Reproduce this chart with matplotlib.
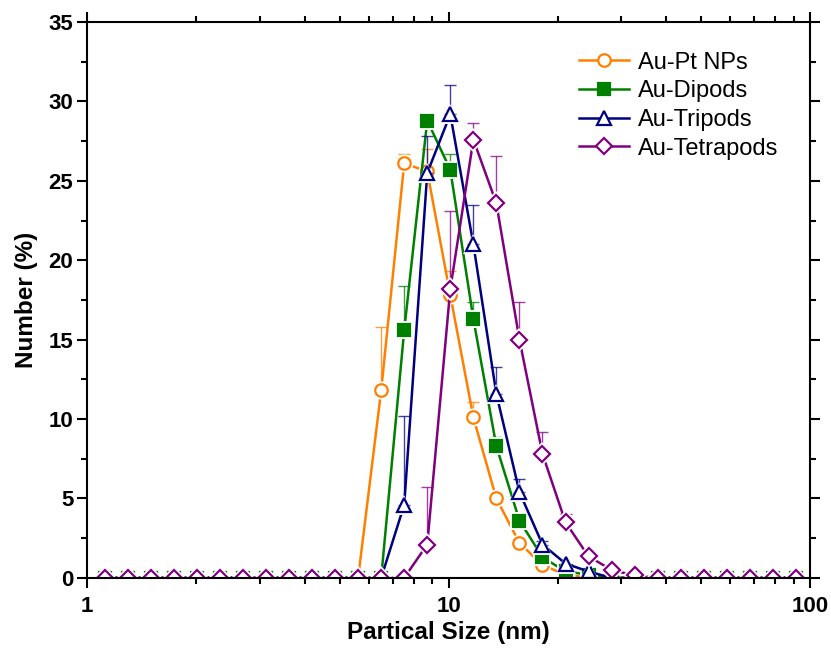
import numpy as np
import matplotlib
matplotlib.use("Agg")
import matplotlib.pyplot as plt
from matplotlib.ticker import LogLocator, MultipleLocator, NullFormatter, FixedFormatter, FixedLocator

plt.rcParams["font.family"] = ["Liberation Sans", "DejaVu Sans"]

# DLS size bins (nm)
size_nm = [1.117, 1.294, 1.499, 1.736, 2.010, 2.328, 2.696, 3.122, 3.615, 4.187,
           4.849, 5.615, 6.503, 7.531, 8.721, 10.10, 11.70, 13.54, 15.69, 18.17,
           21.04, 24.36, 28.21, 32.67, 37.84, 43.82, 50.75, 58.77, 68.06, 78.82, 91.28]

# number distributions (%)
au_pt = [0]*12 + [11.8, 26.1, 25.6, 17.8, 10.1, 5.0, 2.2, 0.8, 0.2] + [0]*10
au_di = [0]*13 + [15.6, 28.8, 25.7, 16.3, 8.3, 3.6, 1.3, 0.4, 0.2] + [0]*9
au_tri = [0]*13 + [4.6, 25.5, 29.2, 21.0, 11.6, 5.4, 2.1, 0.9, 0.4] + [0]*9
au_tetra = [0]*14 + [2.1, 18.2, 27.6, 23.6, 15.0, 7.8, 3.5, 1.35, 0.5, 0.15] + [0]*7

# upper standard deviations
err_pt = [0]*12 + [4.0, 0.6, 1.4, 1.5, 0.95, 0.3, 0, 0, 0] + [0]*10
err_di = [0]*13 + [2.8, 0.3, 1.0, 1.05, 0.55, 0.2, 0, 0, 0] + [0]*9
err_tri = [0]*13 + [5.6, 2.3, 1.85, 2.5, 1.7, 0.8, 0.2, 0, 0] + [0]*9
err_tetra = [0]*14 + [3.6, 4.9, 1.05, 2.95, 2.4, 1.4, 0.5, 0.3, 0, 0] + [0]*7

series = [
    ("Au-Pt NPs", au_pt, err_pt, "#ff8000", "o", "white", 9),
    ("Au-Dipods", au_di, err_di, "#008000", "s", "#008000", 8.5),
    ("Au-Tripods", au_tri, err_tri, "#000080", "^", "white", 10),
    ("Au-Tetrapods", au_tetra, err_tetra, "#800080", "D", "white", 8.5),
]

fig = plt.figure(figsize=(8.31, 6.5), dpi=100)
ax = fig.add_axes([0.105, 0.111, 0.870, 0.855])

x = np.array(size_nm)
for name, y, e, col, mk, fc, ms in series:
    y = np.array(y)
    e = np.array(e)
    has = e > 0
    ax.errorbar(x[has], y[has], yerr=[np.zeros(has.sum()), e[has]], fmt="none",
                ecolor=col, elinewidth=1.0, capsize=4, capthick=1.0, alpha=0.75)
    ax.plot(x, y, color=col, lw=1.8)
    # white halo leaves a small gap between the line and each symbol
    ax.plot(x, y, ls="none", marker=mk, ms=ms + 4, mfc="white", mec="white", mew=0)
    ax.plot(x, y, ls="none", marker=mk, ms=ms, mfc=fc, mec=col, mew=1.6)
    ax.plot([], [], color=col, lw=1.8, marker=mk, ms=ms, mfc=fc, mec=col, mew=1.6,
            label=name)

ax.set_xscale("log")
ax.set_xlim(1, 100)
ax.set_ylim(0, 35)
ax.xaxis.set_major_locator(FixedLocator([1, 10, 100]))
ax.xaxis.set_major_formatter(FixedFormatter(["1", "10", "100"]))
ax.xaxis.set_minor_locator(LogLocator(base=10, subs=np.arange(2, 10)))
ax.xaxis.set_minor_formatter(NullFormatter())
ax.yaxis.set_major_locator(MultipleLocator(5))
ax.yaxis.set_minor_locator(MultipleLocator(2.5))

ax.tick_params(which="both", direction="out", top=True, right=True, width=1.5)
ax.tick_params(which="major", length=7, labelsize=16, pad=3)
ax.tick_params(axis="x", which="major", pad=6)
ax.tick_params(which="minor", length=4)
for lab in ax.get_xticklabels() + ax.get_yticklabels():
    lab.set_fontweight("bold")
for s in ax.spines.values():
    s.set_linewidth(1.5)

ax.set_xlabel("Partical Size (nm)", fontsize=17.5, fontweight="bold", labelpad=3)
ax.set_ylabel("Number (%)", fontsize=17.5, fontweight="bold", labelpad=8)

ax.legend(loc="upper right", bbox_to_anchor=(0.985, 0.985), frameon=False, fontsize=17,
          handlelength=2.15, handletextpad=0.35, labelspacing=0.28, borderaxespad=0.5)

fig.savefig("out.png", dpi=100)
